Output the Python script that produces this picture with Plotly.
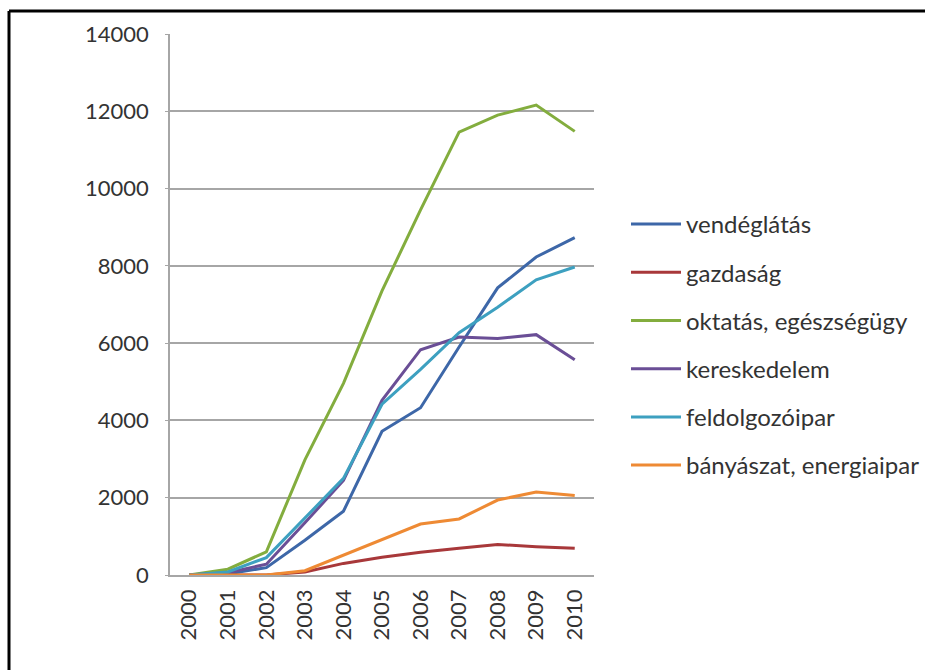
import plotly.graph_objects as go

years = ["2000", "2001", "2002", "2003", "2004", "2005", "2006", "2007", "2008", "2009", "2010"]

vendeglatas = [0, 30, 190, 900, 1650, 3720, 4330, 5900, 7430, 8230, 8730]
gazdasag = [0, 0, 0, 80, 300, 460, 590, 690, 790, 730, 690]
oktatas = [0, 150, 600, 2980, 4960, 7350, 9450, 11460, 11900, 12160, 11480]
kereskedelem = [0, 60, 280, 1350, 2450, 4520, 5830, 6160, 6120, 6220, 5570]
feldolgozoipar = [0, 80, 450, 1480, 2500, 4420, 5320, 6270, 6930, 7640, 7970]
banyaszat = [0, 0, 0, 110, 520, 910, 1320, 1450, 1940, 2150, 2060]

series_names = ["vendéglátás", "gazdaság", "oktatás, egészségügy", "kereskedelem",
                "feldolgozóipar", "bányászat, energiaipar"]
series_values = [vendeglatas, gazdasag, oktatas, kereskedelem, feldolgozoipar, banyaszat]
colors = ["#3D67A8", "#A8383A", "#83AD3E", "#6A4E96", "#3DA0C0", "#EE8A34"]

y_ticks = [0, 2000, 4000, 6000, 8000, 10000, 12000, 14000]
y_tick_labels = [str(v) for v in y_ticks]

fig = go.Figure()
for i, (name, vals, col) in enumerate(zip(series_names, series_values, colors)):
    fig.add_trace(go.Scatter(
        x=years, y=vals, mode="lines", name=name,
        line=dict(color=col, width=3),
        legendgroup=f"g{i}",
    ))

W, H = 925, 670
L, R, T, B = 170, 331, 34, 95
pw, ph = W - L - R, H - T - B

def px(x):
    return (x - L) / pw

def py(y):
    return (H - B - y) / ph

fig.update_layout(
    width=W, height=H,
    margin=dict(l=L, r=R, t=T, b=B),
    paper_bgcolor="white", plot_bgcolor="white",
    font=dict(family="Lato, sans-serif", size=22, color="#333333"),
    showlegend=True,
    legend=dict(
        xref="container", yref="container",
        x=626 / W, y=1 - 202 / H, xanchor="left", yanchor="top",
        itemwidth=50, tracegroupgap=14,
        font=dict(size=24, color="#333333"),
        bgcolor="rgba(0,0,0,0)",
    ),
    xaxis=dict(
        type="category", range=[-0.5, 10.5],
        showline=True, linecolor="#A6A6A6", linewidth=1.5,
        showgrid=False, ticks="", tickangle=-90,
        tickfont=dict(size=22, color="#333333"),
        ticklabelstandoff=4,
    ),
    yaxis=dict(
        range=[0, 14000], tickvals=y_ticks, ticktext=y_tick_labels,
        showline=True, linecolor="#A6A6A6", linewidth=1.5,
        showgrid=True, gridcolor="#A6A6A6", gridwidth=1.5,
        ticks="outside", ticklen=3, tickcolor="#A6A6A6",
        tickfont=dict(size=22, color="#333333"),
        ticklabelstandoff=12,
        zeroline=False,
    ),
    shapes=[
        dict(type="line", xref="paper", yref="paper",
             x0=px(9), x1=px(925), y0=py(11), y1=py(11),
             line=dict(color="black", width=3)),
        dict(type="line", xref="paper", yref="paper",
             x0=px(9), x1=px(9), y0=py(11), y1=py(670),
             line=dict(color="black", width=3)),
    ],
)

fig.write_html("out.html")
